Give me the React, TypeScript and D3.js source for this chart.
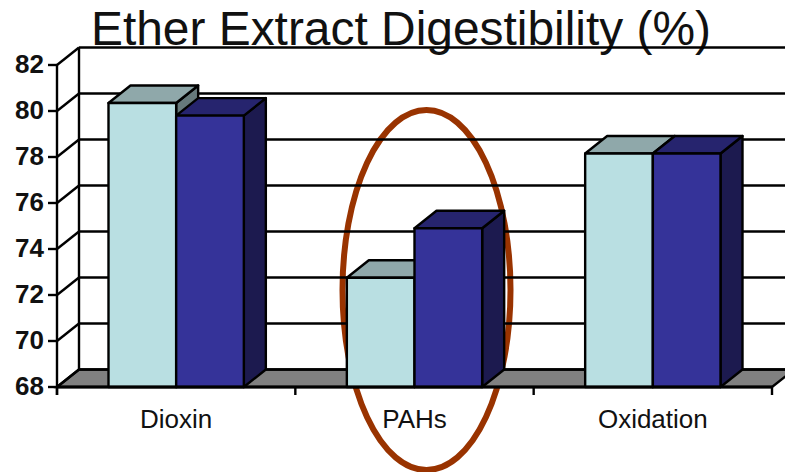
import React from "react";
import * as d3 from "d3";

const categories = ["Dioxin", "PAHs", "Oxidation"];
const seriesA = [80.35, 72.75, 78.15];
const seriesB = [79.8, 74.9, 78.15];
const yTicks = [68, 70, 72, 74, 76, 78, 80, 82];
const title = "Ether Extract Digestibility (%)";

const W = 785, H = 472;
const x0 = 57, x1 = 772, yBase = 387, yTop = 65, dx = 22, dy = -17.5;
const FONT = "'Liberation Sans', Arial, sans-serif";
const lightC = { front: "#B9DFE2", top: "#8FA8AA", side: "#66797B" };
const darkC = { front: "#353399", top: "#26246E", side: "#1C1A4F" };

const y = d3.scaleLinear().domain([68, 82]).range([yBase, yTop]);
const xCat = d3.scaleBand<string>().domain(categories).range([x0, x1]).paddingInner(0).paddingOuter(0);
const xSeries = d3.scaleBand<string>().domain(["a", "b"]).range([51.5, xCat.bandwidth() - 51.5]);

function Bar({ x, w, v, c }: { x: number; w: number; v: number; c: typeof lightC }) {
  const t = y(v);
  const poly = (pts: number[][]) => d3.line()(pts as [number, number][]) + "Z";
  return (
    <g stroke="#000" strokeWidth={2.4} strokeLinejoin="round">
      <path d={poly([[x + w, t], [x + w + dx, t + dy], [x + w + dx, yBase + dy], [x + w, yBase]])} fill={c.side} />
      <path d={poly([[x, t], [x + dx, t + dy], [x + w + dx, t + dy], [x + w, t]])} fill={c.top} />
      <rect x={x} y={t} width={w} height={yBase - t} fill={c.front} />
    </g>
  );
}

export default function App() {
  const tickXs = [...categories.map((c) => xCat(c) as number), x1];
  return (
    <svg width={W} height={H} viewBox={`0 0 ${W} ${H}`} style={{ position: "absolute", left: 0, top: 0, background: "#fff" }}>
      <text x={401} y={45} textAnchor="middle" fontFamily={FONT} fontSize={47.9} fill="#111">{title}</text>
      {/* ellipse sits behind the whole chart */}
      <ellipse cx={426.5} cy={290} rx={84} ry={180} fill="none" stroke="#993300" strokeWidth={6} />
      {/* floor */}
      <path d={`M${x0},${yBase}L${x0 + dx},${yBase + dy}L${x1 + dx},${yBase + dy}L${x1},${yBase}Z`} fill="#808080" stroke="#000" strokeWidth={2.4} />
      {/* gridlines and wall */}
      {yTicks.map((t) => (
        <g key={t} stroke="#000" strokeWidth={2.4}>
          <line x1={x0} y1={y(t)} x2={x0 + dx} y2={y(t) + dy} />
          <line x1={x0 + dx} y1={y(t) + dy} x2={x1 + dx} y2={y(t) + dy} />
          <line x1={x0 - 9} y1={y(t)} x2={x0} y2={y(t)} />
          <text x={44} y={y(t) - 1} dy="0.35em" textAnchor="end" fontFamily={FONT} fontSize={26} fontWeight="bold" fill="#111" stroke="none">{t}</text>
        </g>
      ))}
      <line x1={x0 + dx} y1={yTop + dy} x2={x0 + dx} y2={yBase + dy} stroke="#000" strokeWidth={2.4} />
      <line x1={x0} y1={yTop} x2={x0} y2={yBase + 8} stroke="#000" strokeWidth={2.4} />
      {/* bars */}
      {categories.map((c, i) => {
        const bx = xCat(c) as number;
        const w = xSeries.bandwidth();
        return (
          <g key={c}>
            <Bar x={bx + (xSeries("a") as number)} w={w} v={seriesA[i]} c={lightC} />
            <Bar x={bx + (xSeries("b") as number)} w={w} v={seriesB[i]} c={darkC} />
          </g>
        );
      })}
      {/* x axis */}
      <line x1={x0} y1={yBase} x2={x1} y2={yBase} stroke="#000" strokeWidth={3} />
      {tickXs.map((tx) => (
        <line key={tx} x1={tx} y1={yBase} x2={tx} y2={yBase + 8} stroke="#000" strokeWidth={2.4} />
      ))}
      {categories.map((c) => (
        <text key={c} x={(xCat(c) as number) + xCat.bandwidth() / 2} y={428} textAnchor="middle" fontFamily={FONT} fontSize={26} fill="#111">{c}</text>
      ))}
    </svg>
  );
}
